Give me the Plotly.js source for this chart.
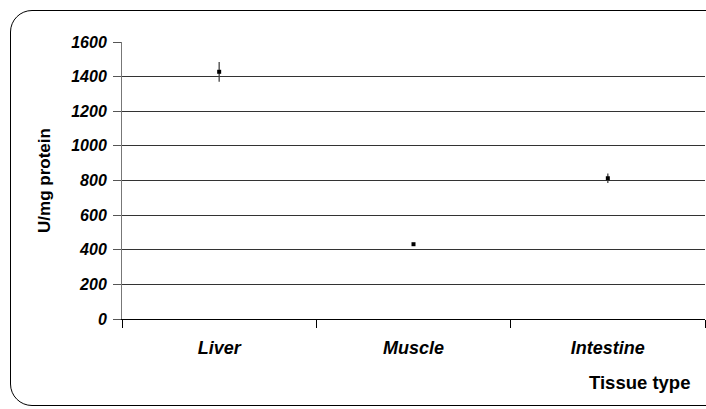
<!DOCTYPE html>
<html>
<head>
<meta charset="utf-8">
<script src="https://cdn.plot.ly/plotly-3.0.1.min.js"></script>
<style>
  html, body { margin: 0; padding: 0; background: #fff; }
  #wrap { position: relative; width: 706px; height: 409px; overflow: hidden; }
  #frame { position: absolute; left: 10px; top: 10px; width: 730px; height: 396px;
           border: 1.3px solid #000; border-radius: 22px; box-sizing: border-box; }
  #chart { position: absolute; left: 0; top: 0; width: 706px; height: 409px; }
</style>
</head>
<body>
<div id="wrap">
  <div id="frame"></div>
  <div id="chart"></div>
</div>
<script>
const categories = ["Liver", "Muscle", "Intestine"];
const activity = [1428, 432, 813];
const errors = [57, 4, 28];
const yTickValues = [0, 200, 400, 600, 800, 1000, 1200, 1400, 1600];

const FONT = "Liberation Sans, Arial, sans-serif";

const trace = {
  type: "scatter",
  mode: "markers",
  x: categories,
  y: activity,
  marker: { symbol: "square", size: 4, color: "#000" },
  error_y: { type: "data", array: errors, visible: true, color: "#444", thickness: 1.3, width: 0 },
  hoverinfo: "skip"
};

const layout = {
  width: 706,
  height: 409,
  margin: { l: 122, r: 1, t: 42, b: 90 },
  paper_bgcolor: "rgba(0,0,0,0)",
  plot_bgcolor: "rgba(0,0,0,0)",
  showlegend: false,
  font: { family: FONT, color: "#000" },
  xaxis: {
    type: "category",
    range: [-0.5, 2.5],
    tickson: "boundaries",
    ticks: "outside",
    ticklen: 8,
    tickcolor: "#000",
    tickwidth: 1,
    showline: true,
    linecolor: "#000",
    linewidth: 1,
    showgrid: false,
    zeroline: false,
    ticklabelstandoff: 12,
    tickfont: { family: FONT, size: 18, weight: "bold", style: "italic", color: "#000" }
  },
  yaxis: {
    range: [0, 1600],
    tickvals: yTickValues,
    ticktext: yTickValues.map(String),
    ticks: "outside",
    ticklen: 8,
    tickcolor: "#555",
    showline: true,
    linecolor: "#777",
    linewidth: 1,
    showgrid: true,
    gridcolor: "#333",
    gridwidth: 1,
    zeroline: false,
    ticklabelstandoff: 3,
    tickfont: { family: FONT, size: 16, weight: "bold", style: "italic", color: "#000" },
    title: { text: "U/mg protein", standoff: 16, font: { family: FONT, size: 17, weight: "bold", color: "#000" } }
  },
  annotations: [{
    text: "Tissue type",
    xref: "paper", yref: "paper",
    x: 0.888, y: -0.231,
    xanchor: "center", yanchor: "middle",
    showarrow: false,
    font: { family: FONT, size: 18.5, weight: "bold", color: "#000" }
  }]
};

Plotly.newPlot("chart", [trace], layout, { displayModeBar: false, staticPlot: true });
</script>
</body>
</html>
